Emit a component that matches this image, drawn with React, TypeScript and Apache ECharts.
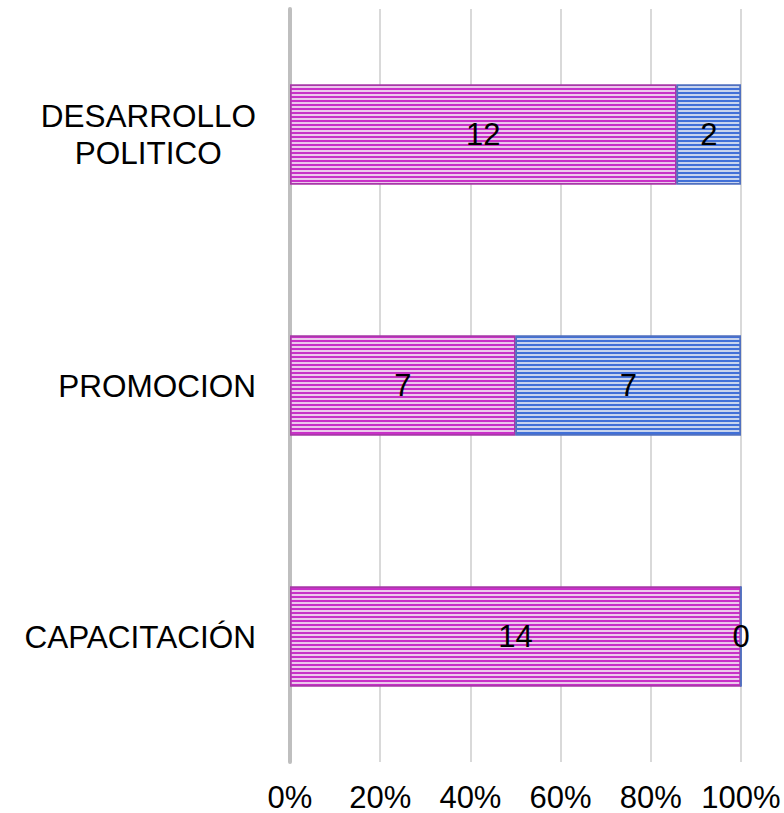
import React, { useEffect, useRef } from "react";
import * as echarts from "echarts";

const categories = ["CAPACITACIÓN", "PROMOCION", "DESARROLLO\nPOLITICO"];
const seriesA = [14, 7, 12];
const seriesB = [0, 7, 2];
const xTicks = [0, 20, 40, 60, 80, 100];

export default function App() {
  const ref = useRef<HTMLDivElement>(null);
  useEffect(() => {
    if (!ref.current) return;
    const chart = echarts.init(ref.current, undefined, { renderer: "svg" });
    const totals = seriesA.map((v, i) => v + seriesB[i]);
    const pctA = seriesA.map((v, i) => ({ value: (v / totals[i]) * 100, raw: v }));
    const pctB = seriesB.map((v, i) => ({ value: (v / totals[i]) * 100, raw: v }));
    const font = "Liberation Sans, Arial, sans-serif";
    const label = {
      show: true,
      position: "inside" as const,
      color: "#000",
      fontSize: 31,
      fontFamily: font,
      formatter: (p: any) => String(p.data.raw),
    };
    chart.setOption({
      animation: false,
      grid: { left: 290, right: 43, top: 9, bottom: 51, containLabel: false },
      xAxis: {
        type: "value",
        min: 0,
        max: 100,
        interval: 20,
        axisLine: { show: false },
        axisTick: { show: false },
        splitLine: { lineStyle: { color: "#d9d9d9", width: 2 } },
        axisLabel: {
          formatter: (v: number) => (xTicks.includes(v) ? v + "%" : ""),
          fontSize: 31,
          lineHeight: 26,
          fontFamily: font,
          color: "#000",
          margin: 22,
        },
      },
      yAxis: {
        type: "category",
        data: categories,
        axisLine: { show: true, lineStyle: { color: "#bfbfbf", width: 4 } },
        axisTick: { show: false },
        axisLabel: {
          fontSize: 31.5,
          fontFamily: font,
          color: "#000",
          margin: 34,
          formatter: (v: string) =>
            v
              .split("\n")
              .map((s) => "{c|" + s + "}")
              .join("\n"),
          rich: {
            c: { align: "center", fontSize: 31.5, fontFamily: font, color: "#000", lineHeight: 37 },
          },
        },
      },
      series: [
        {
          name: "A",
          type: "bar",
          stack: "s",
          barWidth: 100,
          data: pctA,
          label,
          itemStyle: {
            color: "#ecc8ec",
            borderColor: "#a838a8",
            borderWidth: 1.5,
            decal: {
              symbol: "rect",
              color: "#c830c8",
              dashArrayX: [1, 0],
              dashArrayY: [2, 2],
              rotation: 0,
            },
          },
        },
        {
          name: "B",
          type: "bar",
          stack: "s",
          barWidth: 100,
          data: pctB,
          label,
          itemStyle: {
            color: "#c8d4ee",
            borderColor: "#5070c0",
            borderWidth: 1.5,
            decal: {
              symbol: "rect",
              color: "#4170d8",
              dashArrayX: [1, 0],
              dashArrayY: [2, 2],
              rotation: 0,
            },
          },
        },
      ],
    });
    return () => chart.dispose();
  }, []);
  return (
    <div
      ref={ref}
      style={{ position: "absolute", left: 0, top: 0, width: 784, height: 813, background: "#fff" }}
    />
  );
}
